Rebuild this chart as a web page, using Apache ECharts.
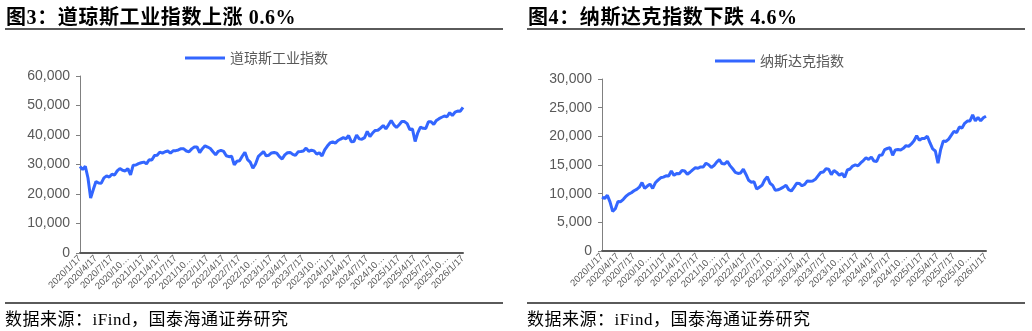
<!DOCTYPE html>
<html>
<head>
<meta charset="utf-8">
<script src="https://cdn.jsdelivr.net/npm/echarts@6/dist/echarts.min.js"></script>
<style>
    body { margin: 0; background: #fff; }
    #wrap { position: relative; width: 1032px; height: 331px; overflow: hidden; }
    #chart { position: absolute; left: 0; top: 0; width: 1032px; height: 331px; }
    .ttl { position: absolute; top: 7px; font: bold 20px/20px "Liberation Serif", "Noto Sans CJK SC"; letter-spacing: 0.6px; color: #000; white-space: nowrap; }
    .rule { position: absolute; height: 2px; background: #5a5a5a; width: 498px; }
    .src { position: absolute; top: 311px; font: 17px/17px "Liberation Serif", "Noto Sans CJK SC"; letter-spacing: 0.5px; color: #000; white-space: nowrap; }
</style>
</head>
<body>
<div id="wrap">
    <div id="chart"></div>
    <div class="ttl" style="left:6px">图3：道琼斯工业指数上涨 0.6%</div>
    <div class="rule" style="left:5px;top:28px"></div>
    <div class="rule" style="left:5px;top:302px"></div>
    <div class="src" style="left:5px">数据来源：iFind，国泰海通证券研究</div>
    <div class="ttl" style="left:528px">图4：纳斯达克指数下跌 4.6%</div>
    <div class="rule" style="left:527px;top:28px"></div>
    <div class="rule" style="left:527px;top:302px"></div>
    <div class="src" style="left:527px">数据来源：iFind，国泰海通证券研究</div>
</div>
<script>
// 半月一个点：2020/1/17 起，之后每月 1 日和 17 日，到 2026/1/17
var years = [2020, 2021, 2022, 2023, 2024, 2025, 2026];
var days = [1, 17];

// 道琼斯工业指数
var dow2020 = [29348, 28256, 29398, 25409, 18600, 21500, 24242, 23724, 23685, 25475, 26120, 25734, 26671, 26428, 27844, 28645, 28032, 27817, 28606, 26501, 29783, 29823, 30303];
var dow2021 = [30606, 30814, 30212, 31613, 31535, 33015, 33153, 34200, 33874, 34327, 34575, 33823, 34633, 34687, 34935, 35343, 35312, 34584, 34326, 35294, 35913, 35931, 34022, 35365];
var dow2022 = [36338, 35911, 35405, 34312, 33294, 34481, 34818, 34451, 32977, 32654, 32813, 29888, 31097, 31288, 32798, 34152, 31656, 30822, 28725, 30186, 32653, 33546, 34395, 32920];
var dow2023 = [33147, 33910, 34092, 33826, 32657, 31862, 33274, 33987, 34098, 33420, 33062, 34299, 34408, 34585, 35560, 34474, 34837, 34618, 33508, 33997, 32900, 34947, 36246, 37306];
var dow2024 = [37690, 37266, 38150, 38628, 39087, 38715, 39807, 37753, 37816, 40004, 38686, 38589, 39119, 41198, 39500, 40660, 41563, 41606, 42330, 43239, 42052, 43445, 44910, 43450];
var dow2025 = [42544, 43488, 44544, 44546, 43841, 41841, 42001, 37800, 40753, 42655, 42270, 42215, 44495, 44484, 43589, 44946, 45545, 46018, 46441, 46190, 47563, 46590, 47716, 48100];
var dow2026 = [48063, 49359];

// 纳斯达克指数
var ndq2020 = [9389, 9151, 9731, 8567, 6900, 7360, 8650, 8605, 9014, 9552, 9910, 10154, 10503, 10745, 11129, 11939, 10910, 11326, 11672, 10911, 11899, 12355, 12764];
var ndq2021 = [12888, 13112, 13071, 13965, 13192, 13525, 13480, 14052, 13962, 13379, 13736, 14161, 14522, 14427, 14673, 14656, 15309, 15044, 14566, 14897, 15498, 15921, 15254, 15170];
var ndq2022 = [15645, 14893, 14346, 13716, 13532, 13615, 14261, 13351, 12335, 11984, 12081, 10798, 11128, 11452, 12390, 12938, 11816, 11448, 10576, 10675, 10890, 11144, 11482, 10705];
var ndq2023 = [10466, 11095, 11816, 11787, 11379, 11630, 12222, 12157, 12213, 12500, 13100, 13689, 13788, 14353, 14283, 13316, 14031, 13708, 13219, 13533, 12851, 14125, 14305, 14813];
var ndq2024 = [15011, 14856, 15361, 15775, 16274, 15973, 16396, 15683, 15605, 16686, 16735, 17689, 17879, 17996, 16700, 17631, 17714, 17628, 17910, 18374, 18239, 18680, 19218, 20109];
var ndq2025 = [19311, 19630, 19627, 20026, 18847, 17808, 17449, 15300, 17710, 19211, 19114, 19521, 20202, 20885, 20650, 21623, 21455, 22261, 22660, 22680, 23725, 22708, 23275, 22693];
var ndq2026 = [23242, 23515];

var dates = ['2020/1/17'];
years.forEach(function(y) {
    for (var m = 1; m <= 12; m++) {
        if (y === 2020 && m === 1) continue;
        if (y === 2026 && m > 1) break;
        days.forEach(function(d) { dates.push(y + '/' + m + '/' + d); });
    }
});
dates = dates.slice(0, dates.indexOf('2026/1/17') + 1);

var dow = [].concat(dow2020, dow2021, dow2022, dow2023, dow2024, dow2025, dow2026);
var ndq = [].concat(ndq2020, ndq2021, ndq2022, ndq2023, ndq2024, ndq2025, ndq2026);

var grey = '#595959';
var lineColor = '#3366FF';

function xAxisOf(idx) {
    return {
        type: 'category',
        gridIndex: idx,
        data: dates,
        boundaryGap: false,
        axisLine: { lineStyle: { color: grey, width: 2 } },
        axisTick: { show: false },
        axisLabel: {
            interval: 5,
            rotate: 45,
            fontSize: 9.5,
            margin: 4,
            color: grey,
            fontFamily: 'Liberation Sans',
            formatter: function(v) {
                return v.length > 9 ? v.slice(0, 7) + '…' : v;
            }
        },
        splitLine: { show: false }
    };
}

function yAxisOf(idx, max, step) {
    return {
        type: 'value',
        gridIndex: idx,
        min: 0,
        max: max,
        interval: step,
        axisLine: { show: true, lineStyle: { color: '#808080', width: 1 } },
        axisTick: { show: true, length: 4, lineStyle: { color: '#808080' } },
        axisLabel: {
            fontSize: 14,
            color: grey,
            margin: 10,
            fontFamily: 'Liberation Sans',
            formatter: function(v) { return v.toLocaleString('en-US'); }
        },
        splitLine: { show: false }
    };
}

var chart = echarts.init(document.getElementById('chart'));
var option = {
    animation: false,
    legend: [{
        data: ['道琼斯工业指数'],
        left: 180,
        top: 46,
        icon: 'rect',
        itemWidth: 40,
        itemHeight: 3,
        itemGap: 4,
        textStyle: { fontSize: 14, color: grey, fontFamily: 'Noto Sans CJK SC' }
    }, {
        data: ['纳斯达克指数'],
        left: 710,
        top: 49,
        icon: 'rect',
        itemWidth: 40,
        itemHeight: 3,
        itemGap: 4,
        textStyle: { fontSize: 14, color: grey, fontFamily: 'Noto Sans CJK SC' }
    }],
    grid: [
        { left: 80, right: 569, top: 76, bottom: 78 },
        { left: 602, right: 46, top: 79, bottom: 80 }
    ],
    xAxis: [xAxisOf(0), xAxisOf(1)],
    yAxis: [yAxisOf(0, 60000, 10000), yAxisOf(1, 30000, 5000)],
    series: [{
        name: '道琼斯工业指数',
        type: 'line',
        xAxisIndex: 0,
        yAxisIndex: 0,
        data: dow,
        showSymbol: false,
        color: lineColor,
        lineStyle: { width: 3, color: lineColor }
    }, {
        name: '纳斯达克指数',
        type: 'line',
        xAxisIndex: 1,
        yAxisIndex: 1,
        data: ndq,
        showSymbol: false,
        color: lineColor,
        lineStyle: { width: 3, color: lineColor }
    }]
};
chart.setOption(option);
</script>
</body>
</html>
